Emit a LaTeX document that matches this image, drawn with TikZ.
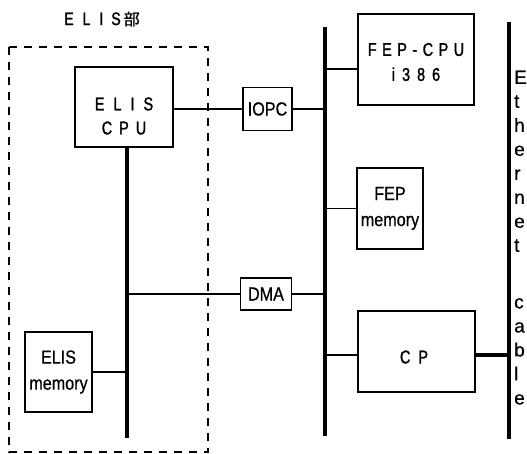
\documentclass[tikz,border=0pt]{standalone}
\usepackage{fontspec}
\setmainfont{Liberation Sans}
\newfontfamily\narrowf[FakeStretch=0.85,FakeBold=0.6]{Liberation Sans}
\newfontfamily\condf[FakeStretch=0.78,FakeBold=1.4]{Liberation Sans}
\newfontfamily\sidef[FakeBold=0.6]{Liberation Sans}
\newfontfamily\cjk[FakeBold=1]{Noto Sans CJK JP}
\begin{document}
\begin{tikzpicture}[x=1pt,y=-1pt,
  thickbox/.style={draw, line width=2pt, inner sep=0pt, align=center},
  membox/.style={draw, line width=1.8pt, inner sep=0pt, align=center},
  smallbox/.style={draw, line width=1.3pt, inner sep=0pt, align=center},
  bus/.style={line width=4.2pt},
  link/.style={line width=1.6pt},
  spaced/.style={font=\condf\fontsize{18.5}{24}\selectfont, inner sep=0pt, align=center},
  narrowtxt/.style={font=\narrowf\fontsize{19}{26}\selectfont},
  side/.style={font=\sidef\fontsize{19}{24}\selectfont, inner sep=0pt, anchor=north west, align=left}
]
\useasboundingbox (0,0) rectangle (527,454);
\fill[white] (0,0) rectangle (527,454);

% title
\node[inner sep=0pt] (title) at (102,19) {\condf\fontsize{18}{18}\selectfont E\hspace{9pt}L\hspace{9pt}I\hspace{8pt}S\hspace{3pt}{\cjk\fontsize{16}{18}\selectfont 部}};

% dashed ELIS region
\draw[line width=1.3pt, dash pattern=on 8pt off 7pt] (9,47) rectangle (208,452);

% ELIS side
\node[thickbox, minimum width=98pt, minimum height=80pt] (cpu) at (124,107) {};
\node[spaced] (cputxt) at (124,116)
  {E\hspace{9pt}L\hspace{9pt}I\hspace{9pt}S\\C\hspace{7pt}P\hspace{7pt}U};
\node[membox, minimum width=67pt, minimum height=80pt, narrowtxt] (emem) at (58.5,372)
  {ELIS\\memory};
\node[smallbox, minimum width=49pt, minimum height=43pt, narrowtxt] (iopc) at (267.5,109) {IOPC};
\node[smallbox, minimum width=51pt, minimum height=32pt, narrowtxt] (dma) at (266,294) {DMA};

\coordinate (b1bot) at (127,438);
\draw[bus] (cpu.south -| b1bot) -- (b1bot);
\draw[link] (cpu.east |- iopc.west) -- (iopc.west);
\draw[link] (b1bot |- dma.west) -- (dma.west);
\draw[link] (emem.east) -- (emem.east -| b1bot);

% FEP side
\coordinate (b2top) at (325,27);
\coordinate (b2bot) at (325,436);
\draw[bus] (b2top) -- (b2bot);
\node[thickbox, minimum width=116pt, minimum height=91pt] (fep) at (416,60) {};
\node[spaced, font=\condf\fontsize{18.5}{25}\selectfont] (feptxt) at (416,62)
  {F\hspace{5.5pt}E\hspace{5.5pt}P\hspace{5.5pt}-\hspace{5.5pt}C\hspace{5.5pt}P\hspace{5.5pt}U\\i\hspace{7pt}3\hspace{7pt}8\hspace{7pt}6};
\node[membox, minimum width=66pt, minimum height=81pt, narrowtxt] (fmem) at (390,208.5)
  {FEP\\memory};
\node[thickbox, minimum width=117pt, minimum height=81pt] (cp) at (416.5,351.5) {};
\node[spaced] (cptxt) at (414,357) {C\hspace{8pt}P};

\draw[link] (iopc.east) -- (iopc.east -| b2top);
\draw[link] (dma.east) -- (dma.east -| b2top);
\draw[link] (b2top |- 0,69) -- ([yshift=-9pt]fep.west);
\draw[link] (b2top |- fmem.west) -- (fmem.west);
\draw[link] (b2top |- 0,355) -- ([yshift=-3.5pt]cp.west);

% Ethernet cable
\coordinate (b3top) at (509,22);
\coordinate (b3bot) at (509,439);
\draw[line width=4.6pt] (b3top) -- (b3bot);
\draw[bus] ([yshift=-3.5pt]cp.east) -- ([yshift=-3.5pt]cp.east -| b3top);

\node[side] (eth) at (514,70.5) {E\\t\\h\\e\\r\\n\\e\\t};
\node[side] (cab) at (514,298) {c\\a\\b\\l\\e};
\end{tikzpicture}
\end{document}
